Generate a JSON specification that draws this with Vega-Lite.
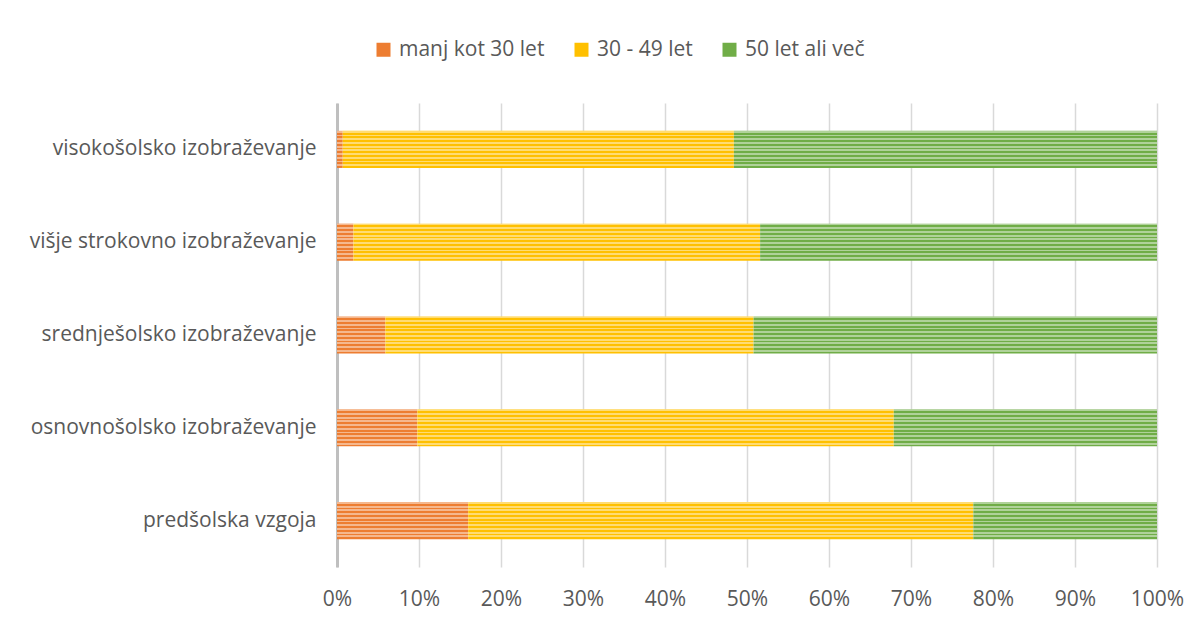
{
  "$schema": "https://vega.github.io/schema/vega-lite/v6.json",
  "width": 820,
  "height": 464,
  "autosize": "none",
  "padding": {"left": 337, "top": 103, "right": 43, "bottom": 54},
  "background": "white",
  "config": {
    "view": {"stroke": null},
    "font": "Open Sans"
  },
  "data": {
    "values": [
      {"kat": "visokošolsko izobraževanje", "skupina": "manj kot 30 let", "k": 1, "delez": 0.7},
      {"kat": "visokošolsko izobraževanje", "skupina": "30 - 49 let", "k": 2, "delez": 47.7},
      {"kat": "visokošolsko izobraževanje", "skupina": "50 let ali več", "k": 3, "delez": 51.6},
      {"kat": "višje strokovno izobraževanje", "skupina": "manj kot 30 let", "k": 1, "delez": 2.0},
      {"kat": "višje strokovno izobraževanje", "skupina": "30 - 49 let", "k": 2, "delez": 49.6},
      {"kat": "višje strokovno izobraževanje", "skupina": "50 let ali več", "k": 3, "delez": 48.4},
      {"kat": "srednješolsko izobraževanje", "skupina": "manj kot 30 let", "k": 1, "delez": 5.9},
      {"kat": "srednješolsko izobraževanje", "skupina": "30 - 49 let", "k": 2, "delez": 44.9},
      {"kat": "srednješolsko izobraževanje", "skupina": "50 let ali več", "k": 3, "delez": 49.2},
      {"kat": "osnovnošolsko izobraževanje", "skupina": "manj kot 30 let", "k": 1, "delez": 9.8},
      {"kat": "osnovnošolsko izobraževanje", "skupina": "30 - 49 let", "k": 2, "delez": 58.1},
      {"kat": "osnovnošolsko izobraževanje", "skupina": "50 let ali več", "k": 3, "delez": 32.1},
      {"kat": "predšolska vzgoja", "skupina": "manj kot 30 let", "k": 1, "delez": 16.0},
      {"kat": "predšolska vzgoja", "skupina": "30 - 49 let", "k": 2, "delez": 61.6},
      {"kat": "predšolska vzgoja", "skupina": "50 let ali več", "k": 3, "delez": 22.4}
    ]
  },
  "encoding": {
    "y": {
      "field": "kat",
      "type": "nominal",
      "sort": ["visokošolsko izobraževanje", "višje strokovno izobraževanje", "srednješolsko izobraževanje", "osnovnošolsko izobraževanje", "predšolska vzgoja"],
      "scale": {"paddingInner": 0.6, "paddingOuter": 0.3},
      "axis": {"title": null, "ticks": false, "domainColor": "#BFBFBF", "domainWidth": 3, "labelPadding": 21, "labelFont": "Open Sans", "labelFontSize": 21, "labelColor": "#595959", "labelLimit": 400}
    },
    "x": {
      "field": "delez",
      "type": "quantitative",
      "stack": "normalize",
      "scale": {"domain": [0, 1]},
      "axis": {"title": null, "format": "%", "values": [0,0.1,0.2,0.3,0.4,0.5,0.6,0.7,0.8,0.9,1], "labelOverlap": false, "labelFlush": false, "domain": false, "ticks": false, "grid": true, "gridColor": "#D9D9D9", "gridWidth": 1.5, "labelPadding": 21, "labelFont": "Open Sans", "labelFontSize": 21, "labelColor": "#595959"}
    },
    "order": {"field": "k", "type": "quantitative"}
  },
  "layer": [
    {
      "mark": {"type": "bar"},
      "encoding": {
        "color": {
          "field": "skupina",
          "type": "nominal",
          "scale": {"domain": ["manj kot 30 let", "30 - 49 let", "50 let ali več"], "range": ["#ED7D31", "#FFC000", "#70AD47"]},
          "legend": {"title": null, "orient": "none", "legendX": 36, "legendY": -64, "direction": "horizontal", "symbolType": "square", "symbolSize": 196, "symbolStrokeWidth": 0, "columnPadding": 26, "labelOffset": 5, "labelFont": "Open Sans", "labelFontSize": 21, "labelColor": "#595959", "labelLimit": 300}
        }
      }
    },
    {
      "mark": {
        "type": "bar",
        "fill": {
          "gradient": "linear", "x1": 0, "y1": 0, "x2": 0, "y2": 1,
          "stops": [
            {"offset": 0, "color": "rgba(255,255,255,0.45)"}, {"offset": 0.05, "color": "rgba(255,255,255,0.45)"},
            {"offset": 0.05, "color": "rgba(255,255,255,0)"}, {"offset": 0.1, "color": "rgba(255,255,255,0)"},
            {"offset": 0.1, "color": "rgba(255,255,255,0.45)"}, {"offset": 0.15, "color": "rgba(255,255,255,0.45)"},
            {"offset": 0.15, "color": "rgba(255,255,255,0)"}, {"offset": 0.2, "color": "rgba(255,255,255,0)"},
            {"offset": 0.2, "color": "rgba(255,255,255,0.45)"}, {"offset": 0.25, "color": "rgba(255,255,255,0.45)"},
            {"offset": 0.25, "color": "rgba(255,255,255,0)"}, {"offset": 0.3, "color": "rgba(255,255,255,0)"},
            {"offset": 0.3, "color": "rgba(255,255,255,0.45)"}, {"offset": 0.35, "color": "rgba(255,255,255,0.45)"},
            {"offset": 0.35, "color": "rgba(255,255,255,0)"}, {"offset": 0.4, "color": "rgba(255,255,255,0)"},
            {"offset": 0.4, "color": "rgba(255,255,255,0.45)"}, {"offset": 0.45, "color": "rgba(255,255,255,0.45)"},
            {"offset": 0.45, "color": "rgba(255,255,255,0)"}, {"offset": 0.5, "color": "rgba(255,255,255,0)"},
            {"offset": 0.5, "color": "rgba(255,255,255,0.45)"}, {"offset": 0.55, "color": "rgba(255,255,255,0.45)"},
            {"offset": 0.55, "color": "rgba(255,255,255,0)"}, {"offset": 0.6, "color": "rgba(255,255,255,0)"},
            {"offset": 0.6, "color": "rgba(255,255,255,0.45)"}, {"offset": 0.65, "color": "rgba(255,255,255,0.45)"},
            {"offset": 0.65, "color": "rgba(255,255,255,0)"}, {"offset": 0.7, "color": "rgba(255,255,255,0)"},
            {"offset": 0.7, "color": "rgba(255,255,255,0.45)"}, {"offset": 0.75, "color": "rgba(255,255,255,0.45)"},
            {"offset": 0.75, "color": "rgba(255,255,255,0)"}, {"offset": 0.8, "color": "rgba(255,255,255,0)"},
            {"offset": 0.8, "color": "rgba(255,255,255,0.45)"}, {"offset": 0.85, "color": "rgba(255,255,255,0.45)"},
            {"offset": 0.85, "color": "rgba(255,255,255,0)"}, {"offset": 0.9, "color": "rgba(255,255,255,0)"},
            {"offset": 0.9, "color": "rgba(255,255,255,0.45)"}, {"offset": 0.95, "color": "rgba(255,255,255,0.45)"},
            {"offset": 0.95, "color": "rgba(255,255,255,0)"}, {"offset": 1, "color": "rgba(255,255,255,0)"}
          ]
        }
      },
      "encoding": {
        "detail": {"field": "skupina", "type": "nominal"}
      }
    }
  ]
}
